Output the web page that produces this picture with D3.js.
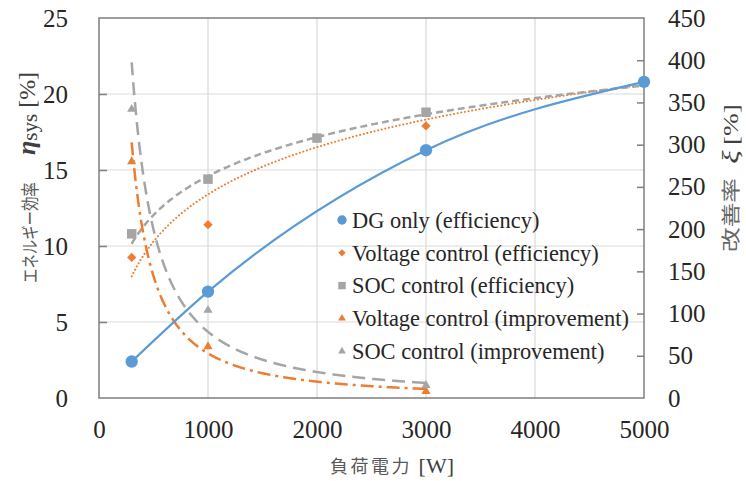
<!DOCTYPE html>
<html><head><meta charset="utf-8">
<script src="https://cdn.jsdelivr.net/npm/d3@7"></script>
<style>body{margin:0;background:#fff}svg{display:block}</style>
</head><body>
<svg id="c" width="746" height="481"></svg>
<script>
// ---- data ----
const xTicks = [0,1000,2000,3000,4000,5000];
const leftTicks = [0,5,10,15,20,25];
const rightTicks = [0,50,100,150,200,250,300,350,400,450];

const dgX = [300,1000,3000,5000];
const dgEff = [2.4,7.0,16.3,20.8];

const voltX = [300,1000,3000];
const voltEff = [9.25,11.4,17.9];

const socX = [300,1000,2000,3000];
const socEff = [10.8,14.4,17.1,18.8];

const impX = [300,1000,3000];
const voltImp = [280,61,8];
const socImp = [342,104,15];

// trendlines: log (a*ln x + b) and power (c*x^k)
const voltEffTrend = [4.48,-17.55];
const socEffTrend = [3.70,-10.96];
const voltImpTrend = [1.183e6,-1.45];
const socImpTrend = [8.73e5,-1.349];
const effTrendRange = [300,5000];
const impTrendRange = [300,3000];

const legendLabels = ["DG only (efficiency)","Voltage control (efficiency)","SOC control (efficiency)","Voltage control (improvement)","SOC control (improvement)"];

// ---- drawing ----
const BLUE="#5B9BD5", ORANGE="#ED7D31", GRAY="#A5A5A5";
const SERIF = "Liberation Serif";
const CJK = "Noto Sans CJK JP";
const svg = d3.select("#c");
const L=99,R=644,T=18,B=398;
const x = d3.scaleLinear().domain([0,5000]).range([L,R]);
const yL = d3.scaleLinear().domain([0,25]).range([B,T]);
const yR = d3.scaleLinear().domain([0,450]).range([B,T]);

// grid
const g = svg.append("g");
g.selectAll(".vg").data(xTicks.slice(1,-1)).enter().append("line")
 .attr("x1",d=>x(d)).attr("x2",d=>x(d)).attr("y1",T).attr("y2",B)
 .attr("stroke","#d9d9d9").attr("stroke-width",1.2);
g.selectAll(".hg").data(leftTicks.slice(1,-1)).enter().append("line")
 .attr("x1",L).attr("x2",R).attr("y1",d=>yL(d)).attr("y2",d=>yL(d))
 .attr("stroke","#d9d9d9").attr("stroke-width",1.2);

// axes
const axL = svg.append("g").attr("transform",`translate(${L},0)`)
 .call(d3.axisLeft(yL).tickValues(leftTicks).tickSize(-8).tickPadding(31));
const axR = svg.append("g").attr("transform",`translate(${R},0)`)
 .call(d3.axisRight(yR).tickValues(rightTicks).tickSize(-7).tickPadding(24));
const axB = svg.append("g").attr("transform",`translate(0,${B})`)
 .call(d3.axisBottom(x).tickValues(xTicks).tickSize(0).tickPadding(22).tickFormat(d3.format("d")));
[axL,axR,axB].forEach(a=>{
  a.attr("font-family",SERIF).attr("font-size",25);
  a.select(".domain").remove();
  a.selectAll("line").attr("stroke","#7f7f7f").attr("stroke-width",1.5);
  a.selectAll("text").each(function(){
    const s=d3.select(this); const t=s.text(); s.text(null);
    s.append("tspan").attr("font-family",SERIF).attr("font-size",25).attr("fill","#262626").text(t);
  });
});
axL.selectAll(".tick line").filter(d=>d===0||d===25).remove();
axR.selectAll(".tick line").filter(d=>d===0||d===450).remove();
svg.append("rect").attr("x",L).attr("y",T).attr("width",R-L).attr("height",B-T)
 .attr("fill","none").attr("stroke","#7f7f7f").attr("stroke-width",1.5);

// trendlines
function logTrend(c,r){ const xs=d3.range(r[0],r[1]+1,10); return xs.map(v=>[v,c[0]*Math.log(v)+c[1]]); }
function powTrend(c,r){ const xs=d3.range(r[0],r[1]+1,5); return xs.map(v=>[v,c[0]*Math.pow(v,c[1])]); }
const lineL = d3.line().x(d=>x(d[0])).y(d=>yL(d[1]));
const lineR = d3.line().x(d=>x(d[0])).y(d=>yR(d[1]));
svg.append("clipPath").attr("id","pc").append("rect").attr("x",L).attr("y",T).attr("width",R-L).attr("height",B-T);
const tg = svg.append("g").attr("clip-path","url(#pc)");

tg.append("path").attr("d",lineL(logTrend(voltEffTrend,effTrendRange))).attr("fill","none")
 .attr("stroke",ORANGE).attr("stroke-width",2).attr("stroke-dasharray","0.1,3.6").attr("stroke-linecap","round");
tg.append("path").attr("d",lineL(logTrend(socEffTrend,effTrendRange))).attr("fill","none")
 .attr("stroke",GRAY).attr("stroke-width",2.5).attr("stroke-dasharray","7,4");
tg.append("path").attr("d",lineR(powTrend(voltImpTrend,impTrendRange))).attr("fill","none")
 .attr("stroke",ORANGE).attr("stroke-width",2.5).attr("stroke-dasharray","13,5,3,5");
tg.append("path").attr("d",lineR(powTrend(socImpTrend,impTrendRange))).attr("fill","none")
 .attr("stroke",GRAY).attr("stroke-width",2.5).attr("stroke-dasharray","13,7");

// DG line (smoothed)
const dgPts = dgX.map((v,i)=>[v,dgEff[i]]);
svg.append("path").attr("d",d3.line().x(d=>x(d[0])).y(d=>yL(d[1])).curve(d3.curveMonotoneX)(dgPts))
 .attr("fill","none").attr("stroke",BLUE).attr("stroke-width",2.2);

// markers
const sym = (type,size)=>d3.symbol().type(type).size(size)();
function markers(xs,ys,scale,type,size,color){
  svg.append("g").selectAll("path").data(xs).enter().append("path")
   .attr("d",sym(type,size)).attr("fill",color)
   .attr("transform",(d,i)=>`translate(${x(d)},${scale(ys[i])})`);
}
markers(voltX,voltEff,yL,d3.symbolDiamond2,55,ORANGE);
markers(socX,socEff,yL,d3.symbolSquare2,115,GRAY);
markers(impX,voltImp,yR,d3.symbolTriangle2,60,ORANGE);
markers(impX,socImp,yR,d3.symbolTriangle2,60,GRAY);
markers(dgX,dgEff,yL,d3.symbolCircle,120,BLUE);

// legend
const legTypes=[d3.symbolCircle,d3.symbolDiamond2,d3.symbolSquare2,d3.symbolTriangle2,d3.symbolTriangle2];
const legSizes=[70,34,70,42,42];
const legColors=[BLUE,ORANGE,GRAY,ORANGE,GRAY];
const lg = svg.append("g").attr("font-family",SERIF);
legendLabels.forEach((t,i)=>{
  const yy = 220 + i*32.8;
  lg.append("path").attr("d",sym(legTypes[i],legSizes[i])).attr("fill",legColors[i])
    .attr("transform",`translate(342,${yy})`);
  lg.append("text").attr("x",352).attr("y",yy).attr("dy","0.35em").attr("font-family",SERIF).attr("font-size",22.4)
    .append("tspan").attr("font-family",SERIF).attr("font-size",22.4).attr("fill","#262626").text(t);
});

// axis titles
svg.append("text").attr("transform","translate(37,283) rotate(-90) scale(0.8,1)")
  .attr("fill","#595959").append("tspan").attr("font-family",CJK).attr("font-size",18).text("エネルギー効率");
const lt2 = svg.append("text").attr("transform","translate(35,155) rotate(-90)").attr("fill","#404040");
lt2.append("tspan").attr("font-family",SERIF).attr("font-size",26).attr("font-style","italic").attr("font-weight","bold").text("η");
lt2.append("tspan").attr("font-family",SERIF).attr("font-size",21).attr("dy",2).text("sys");
lt2.append("tspan").attr("font-family",SERIF).attr("font-size",24).attr("dx",6).attr("dy",-2).text("[%]");

const rt = svg.append("text").attr("transform","translate(738,252) rotate(-90) scale(1.3,1)").attr("fill","#666666");
rt.append("tspan").attr("font-family",CJK).attr("font-size",19).text("改善率");
rt.append("tspan").attr("font-family",SERIF).attr("font-size",24).attr("dx",11).attr("font-style","italic").attr("fill","#404040").text("ξ");
rt.append("tspan").attr("font-family",SERIF).attr("font-size",21).attr("dx",4).attr("fill","#404040").text("[%]");

const bt = svg.append("text").attr("x",392).attr("y",473).attr("text-anchor","middle").attr("fill","#595959");
bt.append("tspan").attr("font-family",CJK).attr("font-size",18).attr("letter-spacing",2.5).text("負荷電力 ");
bt.append("tspan").attr("font-family",SERIF).attr("font-size",22).attr("fill","#404040").text("[W]");
</script>
</body></html>
